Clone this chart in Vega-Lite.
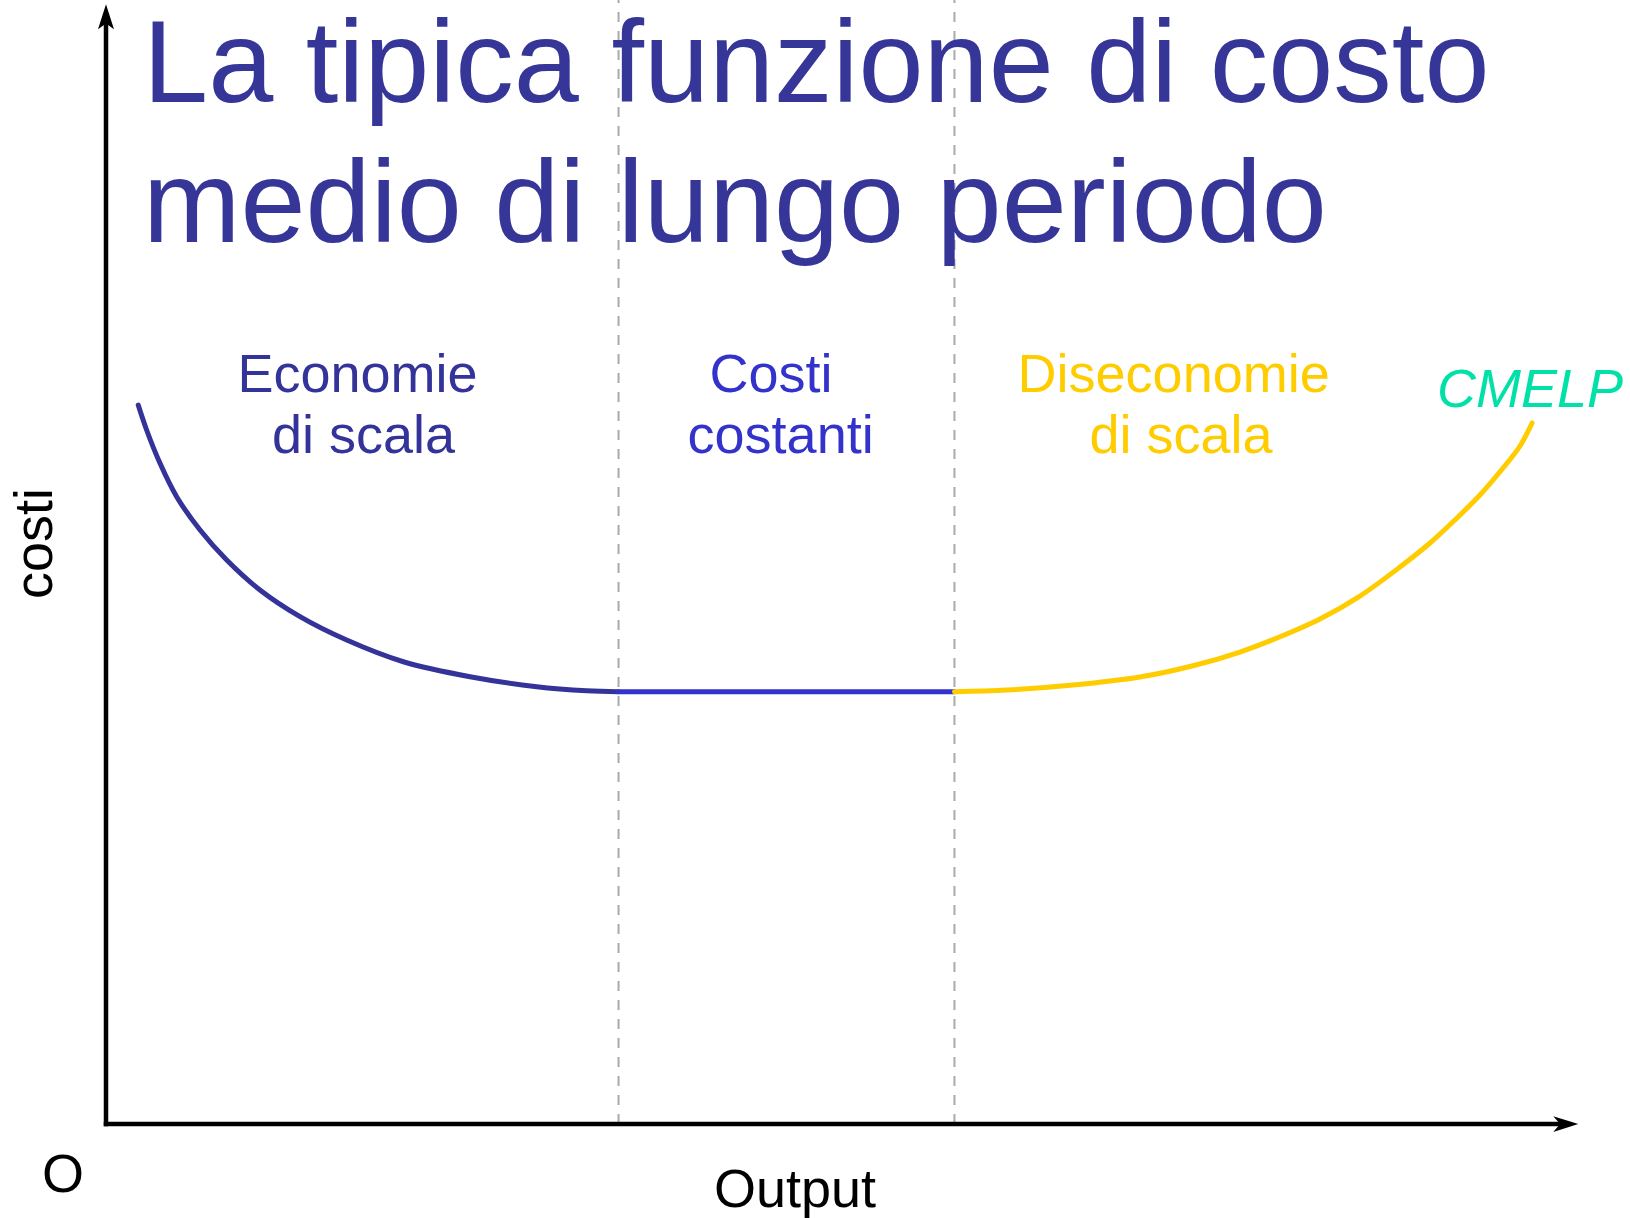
{
  "$schema": "https://vega.github.io/schema/vega-lite/v6.json",
  "width": 1630,
  "height": 1218,
  "autosize": {"type": "none"},
  "padding": 0,
  "background": "white",
  "config": {"view": {"stroke": null}},
  "resolve": {"scale": {"color": "independent", "shape": "independent"}},
  "datasets": {
    "curve": [
      {"x": 2.19, "y": 64.25, "tratto": "economie"},
      {"x": 2.76, "y": 62.02, "tratto": "economie"},
      {"x": 3.67, "y": 59.04, "tratto": "economie"},
      {"x": 4.80, "y": 56.06, "tratto": "economie"},
      {"x": 6.39, "y": 53.08, "tratto": "economie"},
      {"x": 8.20, "y": 50.40, "tratto": "economie"},
      {"x": 10.46, "y": 47.72, "tratto": "economie"},
      {"x": 13.18, "y": 45.34, "tratto": "economie"},
      {"x": 16.35, "y": 43.25, "tratto": "economie"},
      {"x": 20.20, "y": 41.31, "tratto": "economie"},
      {"x": 24.73, "y": 39.97, "tratto": "economie"},
      {"x": 29.26, "y": 39.08, "tratto": "economie"},
      {"x": 32.66, "y": 38.72, "tratto": "economie"},
      {"x": 34.82, "y": 38.63, "tratto": "economie"},
      {"x": 34.82, "y": 38.63, "tratto": "costanti"},
      {"x": 57.64, "y": 38.63, "tratto": "costanti"},
      {"x": 57.64, "y": 38.63, "tratto": "diseconomie"},
      {"x": 61.21, "y": 38.78, "tratto": "diseconomie"},
      {"x": 65.69, "y": 39.23, "tratto": "diseconomie"},
      {"x": 70.24, "y": 39.95, "tratto": "diseconomie"},
      {"x": 73.78, "y": 40.93, "tratto": "diseconomie"},
      {"x": 77.04, "y": 42.18, "tratto": "diseconomie"},
      {"x": 79.55, "y": 43.43, "tratto": "diseconomie"},
      {"x": 82.47, "y": 45.13, "tratto": "diseconomie"},
      {"x": 85.19, "y": 47.18, "tratto": "diseconomie"},
      {"x": 87.91, "y": 49.78, "tratto": "diseconomie"},
      {"x": 89.95, "y": 51.92, "tratto": "diseconomie"},
      {"x": 91.64, "y": 53.98, "tratto": "diseconomie"},
      {"x": 93.34, "y": 56.21, "tratto": "diseconomie"},
      {"x": 94.91, "y": 58.62, "tratto": "diseconomie"},
      {"x": 96.06, "y": 60.59, "tratto": "diseconomie"},
      {"x": 96.88, "y": 62.65, "tratto": "diseconomie"}
    ],
    "soglie": [
      {"x": 34.82, "y": 0, "y2": 100.45},
      {"x": 57.64, "y": 0, "y2": 100.45}
    ],
    "assi": [
      {"x": 0, "y": 0, "x2": 0, "y2": 98.96},
      {"x": 0, "y": 0, "x2": 99.17, "y2": 0}
    ],
    "frecce": [
      {"x": 0, "y": 98.96, "verso": "su"},
      {"x": 99.17, "y": 0, "verso": "destra"}
    ],
    "titolo": [
      {"x": 2.52, "y": 91.33, "text": "La tipica funzione di costo"},
      {"x": 2.52, "y": 78.82, "text": "medio di lungo periodo"}
    ],
    "etichette": [
      {"x": 17.09, "y": 65.42, "text": "Economie", "gruppo": "economie"},
      {"x": 17.49, "y": 59.96, "text": "di scala", "gruppo": "economie"},
      {"x": 45.18, "y": 65.42, "text": "Costi", "gruppo": "costanti"},
      {"x": 45.83, "y": 59.96, "text": "costanti", "gruppo": "costanti"},
      {"x": 72.53, "y": 65.42, "text": "Diseconomie", "gruppo": "diseconomie"},
      {"x": 73.03, "y": 59.96, "text": "di scala", "gruppo": "diseconomie"}
    ],
    "assi_nomi": [
      {"x": 46.81, "y": -7.39, "text": "Output"},
      {"x": -2.92, "y": -6.05, "text": "O"}
    ],
    "curva_nome": [
      {"x": 90.42, "y": 64.10, "text": "CMELP"}
    ],
    "asse_y": [
      {"x": -3.67, "y": 51.88, "text": "costi"}
    ]
  },
  "encoding": {
    "x": {"field": "x", "type": "quantitative", "scale": {"domain": [-7.201, 103.533], "nice": false, "zero": false}, "axis": null},
    "y": {"field": "y", "type": "quantitative", "scale": {"domain": [-8.4, 100.447], "nice": false, "zero": false}, "axis": null}
  },
  "layer": [
    {
      "data": {"name": "soglie"},
      "mark": {"type": "rule", "color": "#aaaaaa", "strokeWidth": 2, "strokeDash": [10, 9]},
      "encoding": {"y2": {"field": "y2"}}
    },
    {
      "data": {"name": "curve"},
      "mark": {"type": "line", "strokeWidth": 5, "interpolate": "catmull-rom", "strokeCap": "round"},
      "encoding": {
        "color": {"field": "tratto", "type": "nominal", "scale": {"domain": ["economie", "costanti", "diseconomie"], "range": ["#333399", "#3333cc", "#ffcc00"]}, "legend": null},
        "order": {"field": "x", "type": "quantitative"}
      }
    },
    {
      "data": {"name": "assi"},
      "mark": {"type": "rule", "color": "black", "strokeWidth": 4.5, "strokeCap": "square"},
      "encoding": {"x2": {"field": "x2"}, "y2": {"field": "y2"}}
    },
    {
      "data": {"name": "frecce"},
      "mark": {"type": "point", "filled": true, "color": "black", "opacity": 1, "size": 625, "strokeWidth": 0},
      "encoding": {
        "shape": {"field": "verso", "type": "nominal", "scale": {"domain": ["su", "destra"], "range": ["M0,-1L0.64,1L0,0.55L-0.64,1Z", "M1,0L-1,-0.63L-0.46,0L-1,0.63Z"]}, "legend": null}
      }
    },
    {
      "data": {"name": "titolo"},
      "mark": {"type": "text", "align": "left", "baseline": "alphabetic", "font": "Liberation Sans", "fontSize": 117, "color": "#363699"},
      "encoding": {"text": {"field": "text"}}
    },
    {
      "data": {"name": "etichette"},
      "mark": {"type": "text", "align": "center", "baseline": "alphabetic", "font": "Liberation Sans", "fontSize": 54},
      "encoding": {
        "text": {"field": "text"},
        "color": {"field": "gruppo", "type": "nominal", "scale": {"domain": ["economie", "costanti", "diseconomie"], "range": ["#333399", "#3333cc", "#ffcc00"]}, "legend": null}
      }
    },
    {
      "data": {"name": "assi_nomi"},
      "mark": {"type": "text", "align": "center", "baseline": "alphabetic", "font": "Liberation Sans", "fontSize": 54, "color": "black"},
      "encoding": {"text": {"field": "text"}}
    },
    {
      "data": {"name": "curva_nome"},
      "mark": {"type": "text", "align": "left", "baseline": "alphabetic", "font": "Liberation Sans", "fontSize": 54, "fontStyle": "italic", "color": "#00e1a8"},
      "encoding": {"text": {"field": "text"}}
    },
    {
      "data": {"name": "asse_y"},
      "mark": {"type": "text", "align": "center", "baseline": "alphabetic", "angle": 270, "font": "Liberation Sans", "fontSize": 54, "color": "black"},
      "encoding": {"text": {"field": "text"}}
    }
  ]
}
